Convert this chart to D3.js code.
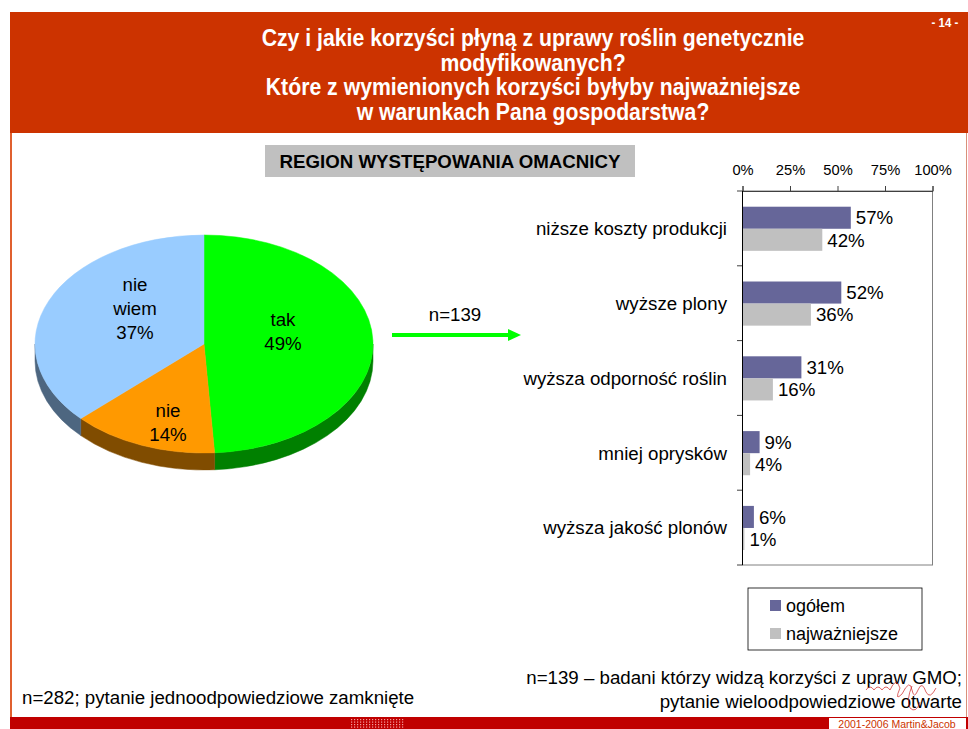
<!DOCTYPE html>
<html>
<head>
<meta charset="utf-8">
<script src="https://cdn.jsdelivr.net/npm/d3@7"></script>
<style>
  body { margin: 0; background: #fff; }
  svg text { font-family: "Liberation Sans", Arial, sans-serif; }
</style>
</head>
<body>
<svg id="slide" width="968" height="729"></svg>
<script>
// --- data ---
var titleLines = ['Czy i jakie korzyści płyną z uprawy roślin genetycznie',
                  'modyfikowanych?',
                  'Które z wymienionych korzyści byłyby najważniejsze',
                  'w warunkach Pana gospodarstwa?'];
var pieLabels = [['tak'], ['nie'], ['nie', 'wiem']];
var pieValues = [49, 14, 37];
var pieColors = ['#00ff00', '#ff9900', '#99ccff'];
var pieSides = ['#008000', '#804c00', '#4d6680'];

var categories = ['niższe koszty produkcji', 'wyższe plony', 'wyższa odporność roślin',
                  'mniej oprysków', 'wyższa jakość plonów'];
var seriesNames = ['ogółem', 'najważniejsze'];
var ogolem = [57, 52, 31, 9, 6];
var najwazniejsze = [42, 36, 16, 4, 1];
var seriesColors = ['#666699', '#c0c0c0'];
var xTicks = [0, 25, 50, 75, 100];

var svg = d3.select('#slide');
var fs = '18.7px';

// header band
svg.append('rect').attr('x', 10).attr('y', 12).attr('width', 958).attr('height', 121).style('fill', '#cc3300');
svg.append('line').attr('x1', 11).attr('x2', 11).attr('y1', 133).attr('y2', 717)
    .style('stroke', '#e0602f').style('stroke-width', 2);
svg.append('line').attr('x1', 966.5).attr('x2', 966.5).attr('y1', 133).attr('y2', 717)
    .style('stroke', '#d9907a').style('stroke-width', 1);

// title in a condensed look: measure the first line and squeeze horizontally
var titleG = svg.append('g');
var titles = titleG.selectAll('.title').data(titleLines).enter().append('text')
    .attr('class', 'title')
    .attr('x', 0).attr('y', function (d, i) { return 46 + i * 24.7; })
    .attr('text-anchor', 'middle')
    .style('font-weight', 'bold').style('font-size', '23px').style('fill', '#fff')
    .text(function (d) { return d; });
var k = 543 / titles.node().getComputedTextLength();
titleG.attr('transform', 'translate(533,0) scale(' + k + ',1)');

svg.append('text').attr('x', 945).attr('y', 27).attr('text-anchor', 'middle')
    .attr('transform', 'translate(945,0) scale(0.85,1) translate(-945,0)')
    .style('font-weight', 'bold').style('font-size', '13.5px').style('fill', '#fff').text('- 14 -');

// bottom band
svg.append('rect').attr('x', 10).attr('y', 717).attr('width', 958).attr('height', 12).style('fill', '#c00000');
var dots = svg.append('g');
for (var r = 0; r < 4; r++) {
    for (var c = 0; c < 18; c++) {
        dots.append('rect').attr('x', 351 + c * 3).attr('y', 719 + r * 2.5).attr('width', 1.2).attr('height', 1.2)
            .style('fill', '#f4a0a0');
    }
}
svg.append('rect').attr('x', 829).attr('y', 718).attr('width', 137).attr('height', 11).style('fill', '#fff');
svg.append('text').attr('x', 897).attr('y', 727.5).attr('text-anchor', 'middle')
    .style('font-size', '10.5px').style('fill', '#cc3300').text('2001-2006 Martin&Jacob');

// subtitle box
svg.append('rect').attr('x', 265).attr('y', 145).attr('width', 370).attr('height', 32).style('fill', '#c0c0c0');
svg.append('text').attr('x', 450).attr('y', 168).attr('text-anchor', 'middle')
    .style('font-weight', 'bold').style('font-size', fs).text('REGION WYSTĘPOWANIA OMACNICY');

// --- 3D pie ---
var cx = 204, cy = 344, rx = 169, ry = 109, depth = 17;
var pie = d3.pie().sort(null).value(function (d) { return d; });
var arcs = pie(pieValues);
function pt(a, dy) { return [cx + rx * Math.sin(a), cy - ry * Math.cos(a) + (dy || 0)]; }

var pieG = svg.append('g');
// side walls (only front half visible: angles between PI/2 and 3PI/2)
arcs.forEach(function (d, i) {
    var a0 = Math.max(d.startAngle, Math.PI / 2), a1 = Math.min(d.endAngle, 3 * Math.PI / 2);
    if (a1 <= a0) return;
    var p0 = pt(a0), p1 = pt(a1), q1 = pt(a1, depth), q0 = pt(a0, depth);
    var path = 'M' + p0 + ' A' + rx + ',' + ry + ' 0 0 1 ' + p1 + ' L' + q1 +
        ' A' + rx + ',' + ry + ' 0 0 0 ' + q0 + ' Z';
    pieG.append('path').attr('d', path).style('fill', pieSides[i]).style('stroke', pieSides[i]).style('stroke-width', 0.5);
});
// top faces
arcs.forEach(function (d, i) {
    var p0 = pt(d.startAngle), p1 = pt(d.endAngle);
    var large = (d.endAngle - d.startAngle) > Math.PI ? 1 : 0;
    var path = 'M' + cx + ',' + cy + ' L' + p0 + ' A' + rx + ',' + ry + ' 0 ' + large + ' 1 ' + p1 + ' Z';
    pieG.append('path').attr('d', path).style('fill', pieColors[i]).style('stroke', pieColors[i]).style('stroke-width', 0.5);
});
// labels
var labelPos = [[283, 326], [168, 417], [135, 291]];
arcs.forEach(function (d, i) {
    var lines = pieLabels[i].concat([pieValues[i] + '%']);
    var t = pieG.append('text').attr('text-anchor', 'middle').style('font-size', fs);
    lines.forEach(function (l, j) {
        t.append('tspan').attr('x', labelPos[i][0]).attr('y', labelPos[i][1] + j * 24).text(l);
    });
});

// arrow
svg.append('text').attr('x', 455).attr('y', 321).attr('text-anchor', 'middle').style('font-size', fs).text('n=139');
svg.append('line').attr('x1', 392).attr('x2', 510).attr('y1', 335).attr('y2', 335)
    .style('stroke', '#00ff00').style('stroke-width', 4);
svg.append('path').attr('d', 'M508,329 L521,335 L508,341 Z').style('fill', '#00ff00');

// --- bar chart ---
var x = d3.scaleLinear().domain([0, 100]).range([742.5, 932.5]);
var y = d3.scaleBand().domain(categories).range([191, 565]);
var yIn = d3.scaleBand().domain(seriesNames).range([y.bandwidth() * 0.21, y.bandwidth() * 0.80]);
var chart = svg.append('g');

chart.append('rect').attr('x', x(0)).attr('y', 191).attr('width', x(100) - x(0)).attr('height', 374)
    .style('fill', 'none').style('stroke', '#808080');

var xAxis = chart.append('g').attr('transform', 'translate(0,191)')
    .call(d3.axisTop(x).tickValues(xTicks).tickSize(5).tickFormat(function (d) { return d + '%'; }));
xAxis.select('.domain').style('stroke', '#404040');
xAxis.selectAll('line').style('stroke', '#404040');
xAxis.selectAll('text').style('font-size', '14.7px').style('font-family', '"Liberation Sans", Arial, sans-serif')
    .attr('y', -16).style('fill', '#000');

var series = [ogolem, najwazniejsze];
categories.forEach(function (cat, i) {
    series.forEach(function (vals, s) {
        var by = y(cat) + yIn(seriesNames[s]);
        chart.append('rect').attr('x', x(0)).attr('y', by)
            .attr('width', x(vals[i]) - x(0)).attr('height', yIn.bandwidth())
            .style('fill', seriesColors[s]);
        chart.append('text').attr('x', x(vals[i]) + 5).attr('y', by + yIn.bandwidth() / 2)
            .attr('dy', '0.36em').style('font-size', fs).text(vals[i] + '%');
    });
    chart.append('text').attr('x', 727).attr('y', y(cat) + y.bandwidth() / 2).attr('dy', '0.36em')
        .attr('text-anchor', 'end').style('font-size', fs).text(cat);
});

// left axis with ticks between categories
var bounds = categories.map(function (c) { return y(c); }).concat([565]);
chart.selectAll('.ytick').data(bounds).enter().append('line').attr('class', 'ytick')
    .attr('x1', 737).attr('x2', x(0)).attr('y1', function (d) { return d; }).attr('y2', function (d) { return d; })
    .style('stroke', '#404040');
chart.append('line').attr('x1', x(0)).attr('x2', x(0)).attr('y1', 191).attr('y2', 565).style('stroke', '#000');

// legend
var legend = svg.append('g').attr('transform', 'translate(748,588)');
legend.append('rect').attr('width', 174).attr('height', 62).style('fill', '#fff').style('stroke', '#000').style('stroke-width', 0.8);
seriesNames.forEach(function (name, s) {
    legend.append('rect').attr('x', 22).attr('y', 12 + s * 28).attr('width', 11).attr('height', 11).style('fill', seriesColors[s]);
    legend.append('text').attr('x', 38).attr('y', 18 + s * 28).attr('dy', '0.36em').style('font-size', '18px').text(name);
});

// notes
svg.append('text').attr('x', 22).attr('y', 704).style('font-size', fs)
    .text('n=282; pytanie jednoodpowiedziowe zamknięte');
svg.append('text').attr('x', 962).attr('y', 684).attr('text-anchor', 'end').style('font-size', fs)
    .text('n=139 – badani którzy widzą korzyści z upraw GMO;');
svg.append('text').attr('x', 962).attr('y', 708).attr('text-anchor', 'end').style('font-size', fs)
    .text('pytanie wieloodpowiedziowe otwarte');

// signature squiggle
svg.append('path')
    .attr('d', 'M866,690 q4,-6 8,0 q4,-6 8,0 q4,-6 8,0 q6,-14 10,-2 q-6,14 2,6 q8,-16 10,-4 q2,10 6,0 q4,-10 8,2 q4,8 10,-4 M912,686 q-6,14 -2,22 q6,6 10,-6')
    .style('fill', 'none').style('stroke', '#cc2222').style('stroke-width', 0.7);
</script>
</body>
</html>
